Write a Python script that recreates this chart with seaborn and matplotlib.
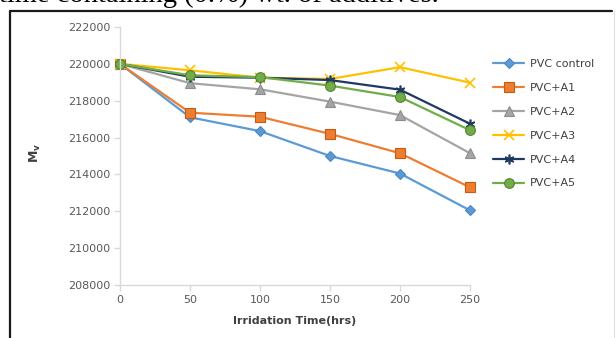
import matplotlib
matplotlib.use("Agg")
import matplotlib.pyplot as plt
from matplotlib.lines import Line2D
import numpy as np
import pandas as pd
import seaborn as sns

# Irradiation time (hrs) and viscosity-average molecular weight Mv per sample
hours = [0, 50, 100, 150, 200, 250]
series_names = ["PVC control", "PVC+A1", "PVC+A2", "PVC+A3", "PVC+A4", "PVC+A5"]
mv_control = [220000, 217100, 216350, 215000, 214050, 212050]
mv_a1 = [220000, 217350, 217130, 216200, 215150, 213300]
mv_a2 = [220000, 218950, 218620, 217950, 217220, 215150]
mv_a3 = [220000, 219650, 219250, 219180, 219820, 218980]
mv_a4 = [220000, 219300, 219250, 219120, 218600, 216750]
mv_a5 = [220000, 219380, 219280, 218820, 218200, 216400]
y_ticks = [208000, 210000, 212000, 214000, 216000, 218000, 220000, 222000]
x_ticks = [0, 50, 100, 150, 200, 250]

values = [mv_control, mv_a1, mv_a2, mv_a3, mv_a4, mv_a5]
df = pd.DataFrame({
    "time": np.tile(hours, len(series_names)),
    "Mv": np.concatenate(values),
    "sample": np.repeat(series_names, len(hours)),
})

colors = ["#5B9BD5", "#ED7D31", "#A5A5A5", "#FFC000", "#203864", "#70AD47"]
edges = ["#4A86C5", "#C55A11", "#8C8C8C", "#FFC000", "#203864", "#548235"]
markers = ["D", "s", "^", "x", (6, 2, 0), "o"]
msizes = [5.0, 7.0, 6.5, 7.0, 7.0, 7.0]

sns.set_theme(style="white")
plt.rcParams["font.family"] = ["DejaVu Sans"]

fig = plt.figure(figsize=(6.16, 3.38), dpi=100)
fig.patch.set_facecolor("white")
ax = fig.add_axes([120 / 616, 1 - 285 / 338, 350 / 616, 258 / 338])

for name, col, ec, mk, ms in zip(series_names, colors, edges, markers, msizes):
    sub = df[df["sample"] == name]
    sns.lineplot(data=sub, x="time", y="Mv", ax=ax, color=col, marker=mk,
                 markersize=ms, markeredgecolor=ec if mk not in ("x", (6, 2, 0)) else col,
                 markeredgewidth=1.2 if mk in ("x", (6, 2, 0)) else 0.8,
                 linewidth=1.6, label=name, clip_on=False, legend=False)

ax.set_xlim(0, 250)
ax.set_ylim(208000, 222000)
ax.set_xticks(x_ticks)
ax.set_yticks(y_ticks)
ax.set_xticklabels([str(v) for v in x_ticks])
ax.set_yticklabels([str(v) for v in y_ticks])

for side in ("top", "right"):
    ax.spines[side].set_visible(False)
for side in ("left", "bottom"):
    ax.spines[side].set_color("#D9D9D9")
    ax.spines[side].set_linewidth(1.0)
ax.tick_params(axis="both", which="major", direction="out", length=4, width=1.0,
               color="#D9D9D9", labelsize=8, labelcolor="#595959", pad=3, bottom=True, left=True)

ax.set_xlabel("Irridation Time(hrs)", fontsize=8, fontweight="bold", color="#404040")
ax.xaxis.set_label_coords(0.5, -0.12)
ax.set_ylabel(r"$\mathbf{M_v}$", fontsize=9, color="#404040")
ax.yaxis.set_label_coords(-0.22, 0.51)

# Legend with one marker centred on each sample line
handles = [Line2D([0], [0], color=c, marker=m, markersize=s,
                  markeredgecolor=e if m not in ("x", (6, 2, 0)) else c,
                  markeredgewidth=1.2 if m in ("x", (6, 2, 0)) else 0.8, linewidth=1.6)
           for c, e, m, s in zip(colors, edges, markers, msizes)]
leg = fig.legend(handles, series_names, loc="upper left",
                 bbox_to_anchor=(493 / 616, 1 - 59 / 338), frameon=False,
                 fontsize=8, handlelength=2.8, handletextpad=0.55,
                 labelspacing=1.25, borderpad=0, borderaxespad=0, numpoints=1)
for t in leg.get_texts():
    t.set_color("#404040")

# Outer frame around the chart
fig.add_artist(Line2D([9.5 / 616, 9.5 / 616], [0, 1 - 10.5 / 338],
                      transform=fig.transFigure, color="#1a1a1a", linewidth=1.6))
fig.add_artist(Line2D([9.5 / 616, 612 / 616], [1 - 10.5 / 338, 1 - 10.5 / 338],
                      transform=fig.transFigure, color="#1a1a1a", linewidth=1.6))
fig.add_artist(Line2D([613.5 / 616, 613.5 / 616], [0, 1 - 10.5 / 338],
                      transform=fig.transFigure, color="#E0E0E0", linewidth=0.8))

# Caption line running above the frame
fig.text(-0.002, 1 - 2.5 / 338, "time containing (0.%) wt. of additives.",
         fontsize=20.5, family=["Liberation Serif"], color="black",
         ha="left", va="baseline")

fig.savefig("out.png", dpi=100, facecolor="white")
